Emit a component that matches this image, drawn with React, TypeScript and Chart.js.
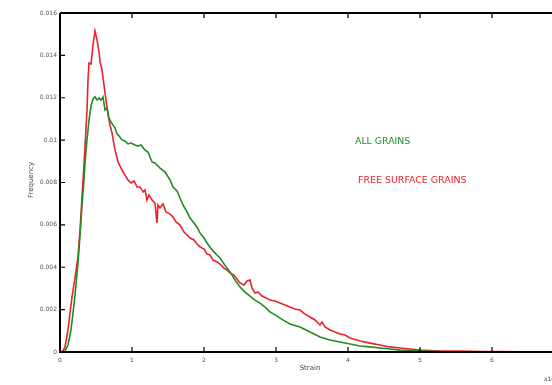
import React, { useEffect, useRef } from "react";
import { Chart, registerables } from "chart.js";

Chart.register(...registerables);

// Strain values (x10^-3) and frequencies for "FREE SURFACE GRAINS"
const redStrain = [
  0, 0.042, 0.069, 0.111, 0.167, 0.208, 0.25, 0.278, 0.306, 0.333, 0.347, 0.375, 0.389, 0.403, 0.431,
  0.458, 0.486, 0.514, 0.542, 0.556, 0.583, 0.611, 0.639, 0.667, 0.694, 0.722, 0.764, 0.806, 0.861,
  0.903, 0.944, 0.986, 1.028, 1.069, 1.111, 1.153, 1.181, 1.208, 1.236, 1.278, 1.319, 1.347, 1.361,
  1.389, 1.431, 1.472, 1.528, 1.569, 1.611, 1.667, 1.722, 1.764, 1.806, 1.861, 1.903, 1.944, 2.0,
  2.042, 2.083, 2.125, 2.181, 2.222, 2.278, 2.319, 2.361, 2.417, 2.458, 2.5, 2.556, 2.597, 2.639,
  2.667, 2.708, 2.75, 2.806, 2.861, 2.917, 2.986, 3.056, 3.125, 3.194, 3.264, 3.333, 3.403, 3.472,
  3.542, 3.611, 3.639, 3.681, 3.75, 3.819, 3.889, 3.958, 4.028, 4.167, 4.306, 4.444, 4.583, 4.722,
  4.861, 5.0, 5.139, 5.278, 5.556, 5.833, 6.111, 6.389, 6.833,
];
const redFreq = [
  0, 0.00005, 0.00024, 0.00104, 0.0026, 0.00349, 0.00448, 0.00576, 0.00732, 0.00883, 0.00968,
  0.01142, 0.01284, 0.01364, 0.01359, 0.01449, 0.01515, 0.01473, 0.01416, 0.01369, 0.01331, 0.0126,
  0.01189, 0.01119, 0.01071, 0.01034, 0.00953, 0.00897, 0.00859, 0.00835, 0.00812, 0.00798, 0.00807,
  0.00779, 0.00779, 0.00755, 0.00765, 0.00717, 0.00741, 0.00717, 0.00703, 0.00609, 0.00694, 0.0068,
  0.00699, 0.00661, 0.00651, 0.00637, 0.00614, 0.00599, 0.00566, 0.00552, 0.00538, 0.00529, 0.0051,
  0.00496, 0.00486, 0.00463, 0.00458, 0.00434, 0.00425, 0.00415, 0.00396, 0.00387, 0.00373, 0.00363,
  0.00345, 0.00326, 0.00316, 0.00335, 0.0034, 0.00302, 0.00278, 0.00283, 0.00264, 0.00255, 0.00245,
  0.00241, 0.00231, 0.00222, 0.00212, 0.00203, 0.00198, 0.00179, 0.00165, 0.00151, 0.00127, 0.00142,
  0.00118, 0.00104, 0.00094, 0.00085, 0.0008, 0.00066, 0.00052, 0.00042, 0.00033, 0.00024, 0.00019,
  0.00014, 0.00009, 0.00007, 0.00005, 0.00005, 0.00002, 0.00002, 0.00001, 0.00001,
];

// Strain values (x10^-3) and frequencies for "ALL GRAINS"
const greenStrain = [
  0, 0.028, 0.069, 0.111, 0.153, 0.194, 0.222, 0.25, 0.278, 0.306, 0.333, 0.347, 0.375, 0.403, 0.431,
  0.458, 0.486, 0.514, 0.542, 0.569, 0.597, 0.625, 0.653, 0.681, 0.708, 0.736, 0.764, 0.792, 0.819,
  0.861, 0.903, 0.944, 0.986, 1.042, 1.083, 1.125, 1.181, 1.222, 1.278, 1.319, 1.389, 1.458, 1.528,
  1.569, 1.625, 1.667, 1.708, 1.764, 1.806, 1.861, 1.903, 1.944, 2.0, 2.042, 2.083, 2.125, 2.181,
  2.222, 2.278, 2.319, 2.361, 2.431, 2.5, 2.569, 2.639, 2.708, 2.778, 2.847, 2.917, 2.986, 3.056,
  3.125, 3.194, 3.333, 3.472, 3.611, 3.75, 3.889, 4.028, 4.167, 4.306, 4.444, 4.583, 4.722, 5.0,
  5.278, 5.694, 6.111, 6.833,
];
const greenFreq = [
  0, 0, 0.00005, 0.00033, 0.00104, 0.00222, 0.00316, 0.0042, 0.00552, 0.00694, 0.00812, 0.00892,
  0.01001, 0.01095, 0.01161, 0.01194, 0.01204, 0.01189, 0.01199, 0.01189, 0.01204, 0.01142, 0.01152,
  0.01104, 0.01086, 0.01071, 0.01057, 0.01029, 0.0102, 0.01001, 0.00996, 0.00982, 0.00986, 0.00977,
  0.00972, 0.00977, 0.00953, 0.00944, 0.00897, 0.00892, 0.00868, 0.0085, 0.00812, 0.00779, 0.0076,
  0.00727, 0.00694, 0.00661, 0.00632, 0.00609, 0.0059, 0.00562, 0.00538, 0.00514, 0.00496, 0.00477,
  0.00458, 0.00444, 0.00415, 0.00396, 0.00378, 0.0034, 0.00307, 0.00283, 0.00264, 0.00245, 0.00231,
  0.00212, 0.00189, 0.00175, 0.0016, 0.00146, 0.00132, 0.00118, 0.00094, 0.00071, 0.00057, 0.00047,
  0.00038, 0.00028, 0.00024, 0.00019, 0.00014, 0.00009, 0.00005, 0.00002, 0.00001, 0, 0,
];

const xTickValues = [0, 1, 2, 3, 4, 5, 6];
const yTickValues = [0, 0.002, 0.004, 0.006, 0.008, 0.01, 0.012, 0.014, 0.016];
const seriesNames = ["ALL GRAINS", "FREE SURFACE GRAINS"];
const xTitle = "Strain";
const yTitle = "Frequency";

const RED = "#e8232b";
const GREEN = "#238a23";

const framePlugin = {
  id: "matlabFrame",
  afterDatasetsDraw(chart: any) {
    const { ctx, chartArea } = chart;
    const { left, right, top, bottom } = chartArea;
    const xs = chart.scales.x;
    const ys = chart.scales.y;
    ctx.save();
    ctx.strokeStyle = "#000";
    ctx.lineWidth = 2;
    ctx.beginPath();
    ctx.moveTo(left, top);
    ctx.lineTo(right, top);
    ctx.moveTo(left, top);
    ctx.lineTo(left, bottom);
    ctx.lineTo(right, bottom);
    ctx.stroke();
    ctx.lineWidth = 1.2;
    ctx.beginPath();
    xTickValues.forEach((v) => {
      const px = xs.getPixelForValue(v);
      ctx.moveTo(px, bottom);
      ctx.lineTo(px, bottom - 5);
      ctx.moveTo(px, top);
      ctx.lineTo(px, top + 5);
    });
    yTickValues.forEach((v) => {
      const py = ys.getPixelForValue(v);
      ctx.moveTo(left, py);
      ctx.lineTo(left + 5, py);
    });
    ctx.stroke();

    // annotation labels (horizontally stretched to match the reference width)
    ctx.font = "8px 'DejaVu Sans', sans-serif";
    ctx.textBaseline = "middle";
    ctx.textAlign = "left";
    ctx.save();
    ctx.translate(355, 142);
    ctx.scale(1.17, 1);
    ctx.fillStyle = GREEN;
    ctx.fillText(seriesNames[0], 0, 0);
    ctx.restore();
    ctx.save();
    ctx.translate(358, 181);
    ctx.scale(1.18, 1);
    ctx.fillStyle = RED;
    ctx.fillText(seriesNames[1], 0, 0);
    ctx.restore();

    // axis titles
    ctx.fillStyle = "#444";
    ctx.font = "7px 'DejaVu Sans', sans-serif";
    ctx.textAlign = "center";
    ctx.fillText(xTitle, 310, 368);
    ctx.save();
    ctx.translate(31, 180);
    ctx.rotate(-Math.PI / 2);
    ctx.fillText(yTitle, 0, 0);
    ctx.restore();
    // exponent
    ctx.textAlign = "left";
    ctx.font = "6px 'DejaVu Sans', sans-serif";
    ctx.fillText("x10", 544, 379);
    ctx.font = "5px 'DejaVu Sans', sans-serif";
    ctx.fillText("-3", 555, 375);
    ctx.restore();
  },
};

export default function App() {
  const canvasRef = useRef<HTMLCanvasElement | null>(null);

  useEffect(() => {
    document.body.style.margin = "0";
    const canvas = canvasRef.current;
    if (!canvas) return;
    const chart = new Chart(canvas, {
      type: "line",
      data: {
        datasets: [
          {
            label: seriesNames[0],
            data: greenStrain.map((x, i) => ({ x, y: greenFreq[i] })),
            borderColor: GREEN,
            borderWidth: 1.6,
            pointRadius: 0,
            tension: 0,
            fill: false,
          },
          {
            label: seriesNames[1],
            data: redStrain.map((x, i) => ({ x, y: redFreq[i] })),
            borderColor: RED,
            borderWidth: 1.6,
            pointRadius: 0,
            tension: 0,
            fill: false,
          },
        ],
      },
      options: {
        animation: false,
        responsive: false,
        devicePixelRatio: 1,
        layout: { padding: { top: 13, left: 0, right: 0, bottom: 0 } },
        plugins: { legend: { display: false }, tooltip: { enabled: false } },
        scales: {
          x: {
            type: "linear",
            min: 0,
            max: 6.833,
            grid: { display: false, drawTicks: false },
            border: { display: false },
            ticks: {
              stepSize: 1,
              includeBounds: false,
              padding: 5,
              color: "#555",
              font: { size: 6, family: "'DejaVu Sans', sans-serif" },
              maxRotation: 0,
            },
            afterFit: (scale: any) => {
              scale.height = 33;
            },
          },
          y: {
            type: "linear",
            min: 0,
            max: 0.016,
            grid: { display: false, drawTicks: false },
            border: { display: false },
            ticks: {
              stepSize: 0.002,
              padding: 3,
              color: "#555",
              font: { size: 6, family: "'DejaVu Sans', sans-serif" },
              callback: (v: any) => String(Number(Number(v).toFixed(3))),
            },
            afterFit: (scale: any) => {
              scale.width = 60;
            },
          },
        },
      },
      plugins: [framePlugin],
    });
    return () => chart.destroy();
  }, []);

  return (
    <div style={{ width: 552, height: 385, background: "#fff" }}>
      <canvas ref={canvasRef} width={552} height={385} style={{ display: "block" }} />
    </div>
  );
}
